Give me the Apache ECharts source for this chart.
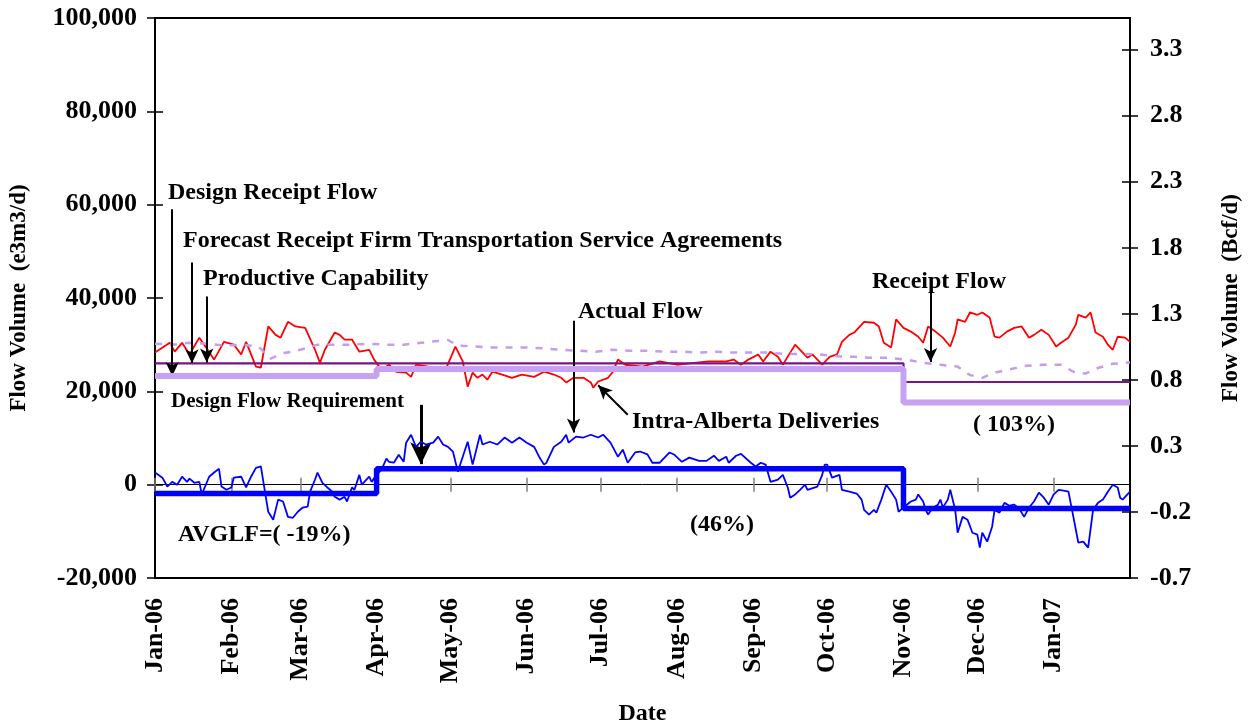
<!DOCTYPE html>
<html>
<head>
<meta charset="utf-8">
<script src="https://cdn.jsdelivr.net/npm/echarts@6/dist/echarts.min.js"></script>
<style>
html,body{margin:0;padding:0;background:#fff;}
#chart{width:1248px;height:722px;}
</style>
</head>
<body>
<div id="chart"></div>
<script>
var FONT = '"Liberation Serif", "Times New Roman", serif';
var monthNames = ['Jan','Feb','Mar','Apr','May','Jun','Jul','Aug','Sep','Oct','Nov','Dec'];

// daily categories, 1 Jan 2006 .. 1 Feb 2007
var startDay = Date.UTC(2006, 0, 1);
var dayCount = 397;
var days = [];
for (var i = 0; i < dayCount; i++) {
    days.push(new Date(startDay + i * 86400000).toISOString().slice(0, 10));
}

// [day index since 1 Jan 2006, e3m3/d]
var intraAlbertaDeliveries = [
    [0,28300],[6,30400],[8,28500],[11,30400],[14,27900],[18,31500],[20,30000],[24,26800],[28,30600],[32,30000],
    [35,27900],[37,30600],[41,25300],[43,25100],[46,33900],[49,32100],[51,31500],[54,34900],[57,33900],[61,33600],
    [65,28900],[67,26100],[69,28900],[73,32600],[75,32100],[77,31100],[80,31100],[83,28500],[87,28900],[89,26800],
    [92,24600],[95,25700],[98,24200],[102,24000],[104,23100],[106,25700],[111,25300],[118,24600],[122,29600],[125,26400],
    [127,21000],[129,24000],[131,22900],[133,23600],[135,22500],[137,24200],[141,23600],[145,22900],[149,23600],[154,23100],
    [158,24200],[162,23600],[165,22900],[167,21900],[170,22900],[174,22900],[177,21900],[178,20800],[180,22100],[184,22900],
    [186,24200],[188,26800],[191,25700],[198,25300],[205,26400],[212,25700],[219,26100],[225,26400],[232,26400],[235,26800],
    [238,25700],[241,26800],[245,27900],[247,26400],[250,28500],[253,27400],[255,25700],[258,28300],[260,30000],[262,28900],
    [265,27200],[267,27900],[271,25700],[274,27400],[277,27900],[279,30600],[282,32100],[284,32600],[288,34900],[292,34700],
    [294,33900],[296,30400],[299,29400],[301,35400],[304,33600],[307,32800],[310,31700],[312,30400],[314,33900],[317,32800],
    [320,31500],[323,29600],[325,32600],[326,35400],[329,34900],[331,36900],[334,36400],[336,36900],[339,35800],[341,31700],
    [343,31500],[346,32800],[349,33600],[352,33900],[355,31500],[357,32100],[360,33200],[363,32100],[366,29600],[368,30400],
    [371,31500],[374,34300],[375,36400],[378,35800],[380,36900],[382,32600],[385,31700],[387,30000],[389,28900],[391,31700],
    [394,31500],[396,30600]
];

var receiptFlow = [
    [0,30200],[7,30000],[14,30400],[21,30200],[28,29800],[35,30000],[42,29600],[47,27000],[52,28200],[56,28500],
    [61,29200],[66,30000],[73,30000],[80,30000],[87,30200],[94,30000],[101,30000],[108,30400],[115,30800],[119,31000],
    [123,29800],[130,29600],[137,29400],[144,29400],[151,29400],[158,29200],[165,28900],[172,28700],[179,28500],[186,28900],
    [193,28700],[200,28700],[207,28500],[214,28500],[221,28300],[228,28500],[235,28300],[242,28300],[249,28300],[256,28000],
    [263,28000],[270,27900],[277,27500],[284,27400],[291,27200],[298,27200],[305,26800],[312,26100],[319,25700],[326,25300],
    [331,23500],[336,22900],[341,24000],[347,24700],[354,25500],[361,25700],[368,25700],[373,24200],[378,23800],[383,25000],
    [389,25900],[396,26200]
];

var actualFlow = [
    [0,2600],[3,1500],[5,-400],[7,600],[9,0],[11,1700],[13,600],[14,1300],[16,400],[18,600],
    [19,-2100],[22,1700],[24,2600],[26,3400],[27,-400],[29,-1100],[31,-600],[32,1500],[35,1700],[37,-600],
    [39,1700],[41,3600],[43,3900],[45,-2600],[46,-5800],[48,-7500],[49,-5400],[50,-3200],[52,-3600],[54,-6900],
    [56,-7100],[58,-5800],[60,-4900],[62,-4700],[63,-1500],[65,1100],[66,2600],[68,400],[70,-600],[72,-1500],
    [73,-2600],[75,-3200],[77,-2600],[78,-3600],[80,-600],[81,-1100],[83,2100],[84,0],[87,1700],[88,600],
    [90,2100],[92,3200],[94,5600],[95,4900],[97,4700],[99,6400],[101,4900],[102,9000],[104,10700],[106,8100],
    [108,9200],[110,8600],[113,9000],[115,10300],[117,8600],[119,8100],[121,7100],[123,2800],[125,6000],[127,9200],
    [129,4300],[132,10700],[133,8600],[136,9200],[139,8600],[142,10100],[145,9000],[148,10100],[151,9000],[154,8100],
    [156,6000],[158,4300],[159,4700],[162,8100],[165,9200],[167,10700],[168,9000],[171,10300],[174,10100],[177,10700],
    [180,10100],[182,10700],[185,9000],[188,6000],[190,7500],[192,4700],[195,6900],[197,7100],[200,6500],[202,4700],
    [205,4700],[209,6900],[211,6400],[214,4900],[217,5800],[221,5100],[224,5100],[227,6200],[229,5100],[232,6000],
    [233,4700],[236,6200],[238,6600],[242,4700],[244,3900],[246,4700],[248,4300],[250,600],[253,1100],[255,2100],
    [257,-600],[258,-2800],[260,-2100],[262,-1100],[264,0],[265,-1100],[269,-400],[271,2100],[272,4300],[273,4300],
    [275,1500],[278,2100],[279,-1100],[282,-1500],[285,-1900],[287,-3200],[288,-5400],[290,-6400],[292,-5400],[293,-6000],
    [295,-3200],[297,0],[299,-1500],[301,-3200],[302,-5800],[304,-4900],[307,-3600],[309,-3200],[310,-2100],[312,-3600],
    [313,-5400],[314,-6400],[316,-4900],[318,-4300],[319,-3200],[320,-4900],[322,-3200],[323,-1100],[325,-5400],[326,-10300],
    [328,-6900],[330,-7500],[332,-10300],[334,-10700],[335,-13500],[336,-10300],[338,-12200],[340,-9000],[341,-5400],[343,-6000],
    [345,-3900],[347,-4500],[349,-4300],[351,-5100],[353,-6900],[355,-4900],[357,-3600],[359,-1700],[361,-2800],[363,-4300],
    [365,-2100],[367,-1100],[369,-1300],[371,-1500],[373,-6900],[375,-12400],[377,-12200],[379,-13500],[381,-5400],[383,-3900],
    [385,-3200],[387,-1500],[389,0],[391,-600],[392,-2800],[393,-3200],[396,-1500]
];

// step series: value holds until the next change day
var productiveCapability = [[0,26000],[304,22000],[396,22000]];
var designReceiptFlow = [[0,23300],[90,24800],[304,17600],[396,17600]];
var designFlowRequirement = [[0,-1900],[90,3400],[304,-5100],[396,-5100]];

// annotation arrows: [from, to] in [day, e3m3/d]
var arrows = [
    [[7,59000],[7,23300]],
    [[15,47600],[15,26000]],
    [[21,40300],[21,26200]],
    [[170,35100],[170,11200]],
    [[192,15000],[180,21300]],
    [[315,41100],[315,26300]]
];
var bigArrow = [[108,17100],[108,4400]];

var notes = [
    ['Design Receipt Flow', 168, 193, 24],
    ['Forecast Receipt Firm Transportation Service Agreements', 183, 241, 24],
    ['Productive Capability', 203, 279, 24],
    ['Design Flow Requirement', 171, 402, 21],
    ['AVGLF=( -19%)', 178, 535, 24],
    ['(46%)', 690, 525, 24],
    ['Actual Flow', 578, 312, 24],
    ['Intra-Alberta Deliveries', 632, 422, 24],
    ['Receipt Flow', 872, 282, 24],
    ['( 103%)', 973, 425, 24]
];

function isMonthStart(idx, value) {
    return value.slice(8) === '01' && idx < dayCount - 1;
}

var chart = echarts.init(document.getElementById('chart'));

var option = {
    animation: false,
    backgroundColor: '#fff',
    grid: {
        left: 155, right: 118, top: 18, bottom: 144, outerBoundsMode: 'none', containLabel: false,
        show: true, borderColor: '#000', borderWidth: 2, backgroundColor: 'transparent'
    },
    xAxis: [{
        type: 'category', data: days, boundaryGap: false, position: 'bottom',
        axisLine: {onZero: false, lineStyle: {color: '#000', width: 2}},
        axisTick: {show: false},
        axisLabel: {
            interval: isMonthStart, rotate: 90, margin: 20, padding: [0, 0, 8, 0],
            fontFamily: FONT, fontWeight: 'bold', fontSize: 26, color: '#000',
            formatter: function (v) { return monthNames[+v.slice(5, 7) - 1] + '-' + v.slice(2, 4); }
        },
        name: 'Date', nameLocation: 'middle', nameGap: 124,
        nameTextStyle: {fontFamily: FONT, fontWeight: 'bold', fontSize: 24, color: '#000'}
    }, {
        type: 'category', data: days, boundaryGap: false, position: 'bottom',
        axisLine: {onZero: true, onZeroAxisIndex: 0, lineStyle: {color: '#000', width: 1}},
        axisTick: {show: true, interval: isMonthStart, length: 7, lineStyle: {color: '#808080', width: 1.5}},
        axisLabel: {show: false}
    }, {
        type: 'category', data: days, boundaryGap: false, position: 'bottom',
        axisLine: {show: false, onZero: true, onZeroAxisIndex: 0},
        axisTick: {show: true, inside: true, interval: isMonthStart, length: 7, lineStyle: {color: '#808080', width: 1.5}},
        axisLabel: {show: false}
    }],
    yAxis: [{
        type: 'value', position: 'left', min: -20000, max: 100000, interval: 20000,
        axisLine: {show: true, lineStyle: {color: '#000', width: 2}},
        axisTick: {show: true, length: 8, lineStyle: {color: '#000', width: 1.5}},
        splitLine: {show: false},
        axisLabel: {
            margin: 18, fontFamily: FONT, fontWeight: 'bold', fontSize: 26, color: '#000',
            formatter: function (v) { return v.toLocaleString('en-US'); }
        },
        name: 'Flow Volume  (e3m3/d)', nameLocation: 'middle', nameRotate: 90, nameGap: 124,
        nameTextStyle: {fontFamily: FONT, fontWeight: 'bold', fontSize: 23, color: '#000'}
    }, {
        type: 'value', position: 'right', min: -0.7, max: 3.54, interval: 0.5,
        axisLine: {show: true, lineStyle: {color: '#000', width: 2}},
        axisTick: {show: true, length: 8, lineStyle: {color: '#000', width: 1.5}},
        splitLine: {show: false},
        axisLabel: {
            margin: 20, showMaxLabel: false, fontFamily: FONT, fontWeight: 'bold', fontSize: 26, color: '#000',
            formatter: function (v) { return v.toFixed(1); }
        },
        name: 'Flow Volume  (Bcf/d)', nameLocation: 'middle', nameRotate: 90, nameGap: 90,
        nameTextStyle: {fontFamily: FONT, fontWeight: 'bold', fontSize: 23, color: '#000'}
    }, {
        type: 'value', position: 'left', min: -20000, max: 100000, interval: 20000,
        axisLine: {show: false}, axisLabel: {show: false}, splitLine: {show: false},
        axisTick: {show: true, inside: true, length: 8, lineStyle: {color: '#000', width: 1.5}}
    }, {
        type: 'value', position: 'right', min: -0.7, max: 3.54, interval: 0.5,
        axisLine: {show: false}, axisLabel: {show: false}, splitLine: {show: false},
        axisTick: {show: true, inside: true, length: 8, lineStyle: {color: '#000', width: 1.5}}
    }],
    series: [{
        name: 'Intra-Alberta Deliveries', type: 'line', data: intraAlbertaDeliveries,
        showSymbol: false, lineStyle: {color: '#ff0000', width: 1.8}, z: 2
    }, {
        name: 'Receipt Flow', type: 'line', data: receiptFlow,
        showSymbol: false, lineStyle: {color: '#c49cf0', width: 2.5, type: [7, 8]}, z: 3
    }, {
        name: 'Productive Capability', type: 'line', data: productiveCapability, step: 'end',
        showSymbol: false, lineStyle: {color: '#7a1585', width: 2.2}, z: 4
    }, {
        name: 'Design Receipt Flow', type: 'line', data: designReceiptFlow, step: 'end',
        showSymbol: false, lineStyle: {color: '#c8a2f2', width: 6}, z: 5
    }, {
        name: 'Actual Flow', type: 'line', data: actualFlow,
        showSymbol: false, lineStyle: {color: '#0000ff', width: 1.8}, z: 6
    }, {
        name: 'Design Flow Requirement', type: 'line', data: designFlowRequirement, step: 'end',
        showSymbol: false, lineStyle: {color: '#0000ff', width: 5.5}, z: 7
    }, {
        name: 'arrows', type: 'line', data: [], z: 10,
        markLine: {
            silent: true, animation: false,
            symbol: ['none', 'arrow'], symbolSize: [10, 14],
            label: {show: false},
            lineStyle: {color: '#000', width: 2, type: 'solid'},
            data: arrows.map(function (a) {
                return [{coord: a[0]}, {coord: a[1]}];
            }).concat([[
                {coord: bigArrow[0]},
                {coord: bigArrow[1], symbolSize: [16, 22], lineStyle: {width: 3}}
            ]])
        }
    }],
    graphic: notes.map(function (n) {
        return {
            type: 'text', x: n[1], y: n[2], z: 100,
            style: {text: n[0], font: 'bold ' + n[3] + 'px ' + FONT, fill: '#000', verticalAlign: 'middle', align: 'left'}
        };
    })
};

chart.setOption(option);
</script>
</body>
</html>
